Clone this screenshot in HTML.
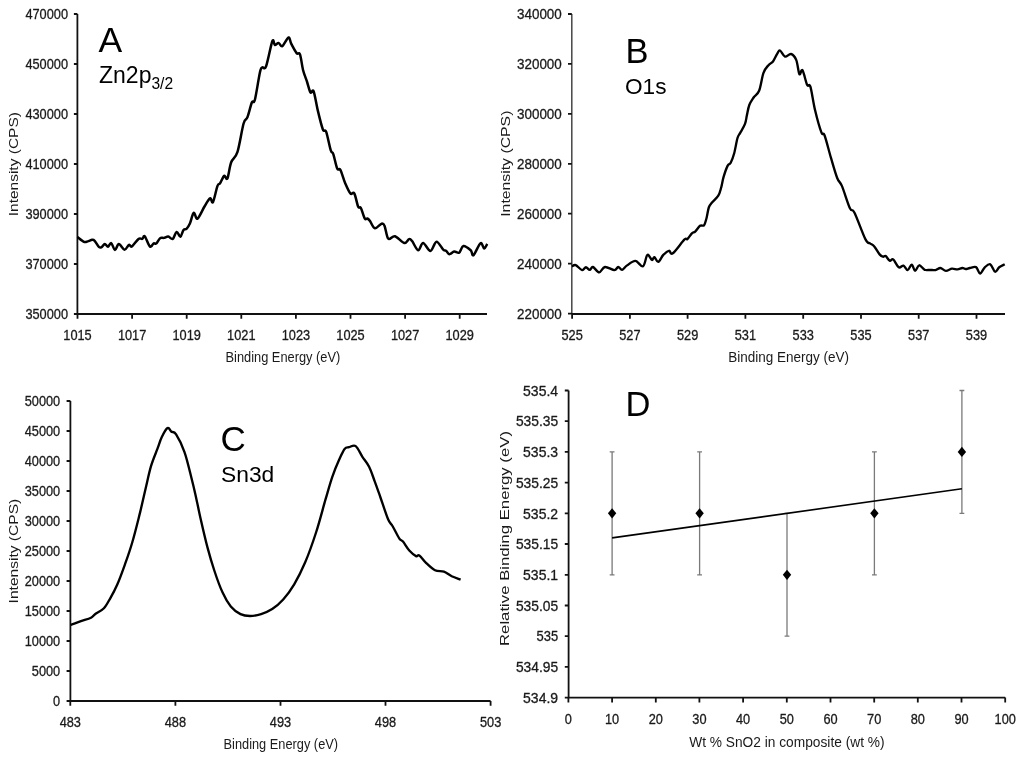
<!DOCTYPE html><html><head><meta charset="utf-8"><style>html,body{margin:0;padding:0;background:#fff;width:1024px;height:762px;overflow:hidden}svg{display:block;will-change:transform}text{stroke:#1a1a1a;stroke-width:0.3px}.ttl{stroke:none}</style></head><body>
<svg width="1024" height="762" viewBox="0 0 1024 762" style="font-family:'Liberation Sans', sans-serif">
<rect width="1024" height="762" fill="#fff"/>
<g stroke-linejoin="round">
<path d="M77.4,14 V314 H487 M73.9,14 H77.4 M73.9,64 H77.4 M73.9,114 H77.4 M73.9,164 H77.4 M73.9,214 H77.4 M73.9,264 H77.4 M73.9,314 H77.4 M77.5,314 V318.8 M132.1,314 V318.8 M186.7,314 V318.8 M241.3,314 V318.8 M295.9,314 V318.8 M350.5,314 V318.8 M405.1,314 V318.8 M459.7,314 V318.8" stroke="#111" stroke-width="1.8" fill="none"/>
<text x="68" y="19.2" font-size="14.4" text-anchor="end" fill="#1a1a1a" textLength="42.6" lengthAdjust="spacingAndGlyphs">470000</text><text x="68" y="69.2" font-size="14.4" text-anchor="end" fill="#1a1a1a" textLength="42.6" lengthAdjust="spacingAndGlyphs">450000</text><text x="68" y="119.2" font-size="14.4" text-anchor="end" fill="#1a1a1a" textLength="42.6" lengthAdjust="spacingAndGlyphs">430000</text><text x="68" y="169.2" font-size="14.4" text-anchor="end" fill="#1a1a1a" textLength="42.6" lengthAdjust="spacingAndGlyphs">410000</text><text x="68" y="219.2" font-size="14.4" text-anchor="end" fill="#1a1a1a" textLength="42.6" lengthAdjust="spacingAndGlyphs">390000</text><text x="68" y="269.2" font-size="14.4" text-anchor="end" fill="#1a1a1a" textLength="42.6" lengthAdjust="spacingAndGlyphs">370000</text><text x="68" y="319.2" font-size="14.4" text-anchor="end" fill="#1a1a1a" textLength="42.6" lengthAdjust="spacingAndGlyphs">350000</text>
<text x="77.5" y="340" font-size="14.4" text-anchor="middle" fill="#1a1a1a" textLength="28.4" lengthAdjust="spacingAndGlyphs">1015</text><text x="132.1" y="340" font-size="14.4" text-anchor="middle" fill="#1a1a1a" textLength="28.4" lengthAdjust="spacingAndGlyphs">1017</text><text x="186.7" y="340" font-size="14.4" text-anchor="middle" fill="#1a1a1a" textLength="28.4" lengthAdjust="spacingAndGlyphs">1019</text><text x="241.3" y="340" font-size="14.4" text-anchor="middle" fill="#1a1a1a" textLength="28.4" lengthAdjust="spacingAndGlyphs">1021</text><text x="295.9" y="340" font-size="14.4" text-anchor="middle" fill="#1a1a1a" textLength="28.4" lengthAdjust="spacingAndGlyphs">1023</text><text x="350.5" y="340" font-size="14.4" text-anchor="middle" fill="#1a1a1a" textLength="28.4" lengthAdjust="spacingAndGlyphs">1025</text><text x="405.1" y="340" font-size="14.4" text-anchor="middle" fill="#1a1a1a" textLength="28.4" lengthAdjust="spacingAndGlyphs">1027</text><text x="459.7" y="340" font-size="14.4" text-anchor="middle" fill="#1a1a1a" textLength="28.4" lengthAdjust="spacingAndGlyphs">1029</text>
<text x="282.9" y="362.3" font-size="14.4" text-anchor="middle" fill="#1a1a1a" textLength="114.8" lengthAdjust="spacingAndGlyphs" class="ttl">Binding Energy (eV)</text>
<text transform="translate(18.2,164.2) rotate(-90)" x="0" y="0" font-size="12.2" text-anchor="middle" fill="#1a1a1a" textLength="104.2" lengthAdjust="spacingAndGlyphs" class="ttl">Intensity (CPS)</text>
<text x="98.6" y="52.2" font-size="35.5" fill="#000" class="ttl">A</text>
<text x="99" y="83" font-size="23" fill="#000" class="ttl">Zn2p<tspan font-size="15.6" dy="5.6">3/2</tspan></text>
<path d="M77.5,237.0 C78.6,237.8 82.2,241.1 83.9,241.8 C85.6,242.5 86.3,241.7 87.7,241.4 C89.1,241.1 90.9,239.9 92.1,239.8 C93.3,239.7 93.5,239.6 94.7,240.8 C95.9,242.0 97.9,246.1 99.1,247.1 C100.3,248.1 100.8,247.6 101.7,247.1 C102.7,246.6 103.8,244.1 104.8,244.0 C105.8,243.9 106.9,246.8 108.0,246.7 C109.1,246.5 110.0,242.6 111.2,243.1 C112.4,243.6 113.7,249.8 115.0,249.9 C116.3,250.1 117.2,244.0 118.8,244.0 C120.4,244.0 122.8,249.6 124.5,249.7 C126.2,249.8 127.8,245.3 129.0,244.8 C130.2,244.3 130.3,247.5 131.9,246.5 C133.5,245.5 136.8,240.2 138.5,238.9 C140.2,237.6 141.2,239.3 142.3,238.9 C143.4,238.5 143.5,235.0 144.8,236.3 C146.1,237.6 148.4,245.3 149.9,246.5 C151.4,247.7 152.6,243.8 153.7,243.3 C154.8,242.8 155.1,244.4 156.2,243.6 C157.3,242.8 158.8,239.1 160.1,238.2 C161.4,237.2 162.5,238.2 163.9,237.9 C165.3,237.6 166.8,236.4 168.3,236.6 C169.8,236.8 171.4,239.7 172.8,238.9 C174.2,238.1 175.3,232.3 176.6,231.9 C177.9,231.5 179.2,237.0 180.4,236.7 C181.6,236.4 182.4,231.3 183.5,230.0 C184.6,228.7 185.6,229.8 186.7,228.7 C187.8,227.6 188.7,226.2 189.9,223.6 C191.1,221.0 192.4,213.7 193.7,212.9 C195.0,212.1 195.7,219.7 197.5,218.6 C199.3,217.5 202.4,209.9 204.5,206.5 C206.6,203.1 208.6,199.0 210.0,198.3 C211.4,197.6 211.8,204.2 213.0,202.1 C214.2,200.0 216.3,189.0 217.5,185.9 C218.7,182.8 218.9,185.1 220.0,183.4 C221.1,181.7 223.0,176.7 224.2,175.9 C225.4,175.1 226.2,180.7 227.4,178.4 C228.6,176.1 229.5,166.6 231.2,162.2 C232.9,157.8 235.3,158.6 237.4,152.2 C239.5,145.8 241.9,129.3 243.6,123.5 C245.3,117.7 246.0,120.8 247.4,117.3 C248.8,113.8 250.7,105.2 251.9,102.3 C253.2,99.4 253.6,104.8 254.9,99.8 C256.2,94.8 258.7,77.8 259.9,72.4 C261.1,67.0 261.3,68.4 262.3,67.4 C263.3,66.4 264.4,70.6 266.1,66.2 C267.8,61.8 270.9,44.7 272.3,41.2 C273.8,37.7 273.8,44.7 274.8,45.0 C275.9,45.3 277.4,42.8 278.6,43.0 C279.9,43.2 280.7,47.1 282.3,46.2 C283.9,45.3 287.0,37.9 288.5,37.5 C290.0,37.1 289.9,41.3 291.3,43.9 C292.7,46.5 295.2,51.4 296.6,53.1 C298.1,54.9 298.9,51.5 300.0,54.4 C301.1,57.2 301.9,65.6 303.1,70.2 C304.3,74.8 305.9,78.3 307.1,82.0 C308.3,85.7 309.4,91.0 310.5,92.5 C311.6,94.0 312.4,88.4 313.6,91.2 C314.8,94.0 316.1,103.3 317.6,109.6 C319.1,115.9 321.4,125.5 322.8,129.2 C324.2,132.9 324.9,128.4 326.2,131.9 C327.5,135.4 329.5,146.5 330.7,150.2 C331.9,153.9 332.2,151.1 333.3,154.2 C334.4,157.3 336.0,166.0 337.2,168.6 C338.4,171.2 339.1,167.5 340.4,169.9 C341.7,172.3 343.4,179.1 345.1,183.0 C346.8,186.9 348.9,191.8 350.4,193.5 C351.9,195.2 353.0,191.3 354.3,193.5 C355.6,195.7 357.1,204.3 358.2,206.7 C359.3,209.1 359.8,206.0 360.9,208.0 C362.0,210.0 363.7,216.8 364.8,218.5 C365.9,220.2 366.5,218.1 367.4,218.5 C368.3,218.9 368.8,219.4 370.0,221.0 C371.2,222.6 373.0,227.9 374.9,228.3 C376.8,228.8 380.0,224.1 381.6,223.7 C383.2,223.3 383.5,223.4 384.6,225.9 C385.7,228.4 386.6,237.0 388.3,238.7 C390.0,240.4 392.4,235.5 395.0,236.2 C397.6,236.9 401.8,242.5 404.2,243.0 C406.6,243.5 407.8,239.4 409.1,239.1 C410.4,238.8 410.6,239.2 412.1,241.1 C413.6,243.0 416.4,250.0 418.2,250.3 C420.0,250.6 421.1,242.9 423.1,243.0 C425.1,243.1 428.2,251.1 430.4,250.9 C432.6,250.7 434.4,241.9 436.5,241.7 C438.6,241.5 441.6,248.2 443.2,249.7 C444.8,251.2 445.3,250.2 446.3,250.9 C447.3,251.7 448.0,254.1 449.3,254.2 C450.6,254.3 452.6,251.8 454.2,251.5 C455.8,251.2 457.6,253.6 459.1,252.7 C460.6,251.8 461.5,246.4 463.4,246.0 C465.3,245.6 469.0,248.8 470.7,250.3 C472.4,251.8 471.9,256.4 473.5,255.2 C475.1,254.0 478.7,244.3 480.5,243.2 C482.3,242.1 483.0,248.4 484.1,248.5 C485.2,248.6 486.7,244.7 487.2,243.9" stroke="#000" stroke-width="2.5" fill="none" stroke-linejoin="round" stroke-linecap="butt"/>
<path d="M571.8,14 V314.0" stroke="#464646" stroke-width="1.5" fill="none"/>
<path d="M571.8,314.0 H1005 M568.0,14.0 H571.8 M568.0,63.9 H571.8 M568.0,113.9 H571.8 M568.0,163.8 H571.8 M568.0,213.7 H571.8 M568.0,263.6 H571.8 M568.0,313.6 H571.8 M572.1,314.0 V318.8 M629.9,314.0 V318.8 M687.6,314.0 V318.8 M745.4,314.0 V318.8 M803.2,314.0 V318.8 M861.0,314.0 V318.8 M918.7,314.0 V318.8 M976.5,314.0 V318.8" stroke="#111" stroke-width="1.8" fill="none"/>
<text x="561.8" y="19.2" font-size="14.4" text-anchor="end" fill="#1a1a1a" textLength="44.8" lengthAdjust="spacingAndGlyphs">340000</text><text x="561.8" y="69.1" font-size="14.4" text-anchor="end" fill="#1a1a1a" textLength="44.8" lengthAdjust="spacingAndGlyphs">320000</text><text x="561.8" y="119.1" font-size="14.4" text-anchor="end" fill="#1a1a1a" textLength="44.8" lengthAdjust="spacingAndGlyphs">300000</text><text x="561.8" y="169.0" font-size="14.4" text-anchor="end" fill="#1a1a1a" textLength="44.8" lengthAdjust="spacingAndGlyphs">280000</text><text x="561.8" y="218.9" font-size="14.4" text-anchor="end" fill="#1a1a1a" textLength="44.8" lengthAdjust="spacingAndGlyphs">260000</text><text x="561.8" y="268.8" font-size="14.4" text-anchor="end" fill="#1a1a1a" textLength="44.8" lengthAdjust="spacingAndGlyphs">240000</text><text x="561.8" y="318.8" font-size="14.4" text-anchor="end" fill="#1a1a1a" textLength="44.8" lengthAdjust="spacingAndGlyphs">220000</text>
<text x="572.1" y="340" font-size="14.4" text-anchor="middle" fill="#1a1a1a" textLength="21.3" lengthAdjust="spacingAndGlyphs">525</text><text x="629.9" y="340" font-size="14.4" text-anchor="middle" fill="#1a1a1a" textLength="21.3" lengthAdjust="spacingAndGlyphs">527</text><text x="687.6" y="340" font-size="14.4" text-anchor="middle" fill="#1a1a1a" textLength="21.3" lengthAdjust="spacingAndGlyphs">529</text><text x="745.4" y="340" font-size="14.4" text-anchor="middle" fill="#1a1a1a" textLength="21.3" lengthAdjust="spacingAndGlyphs">531</text><text x="803.2" y="340" font-size="14.4" text-anchor="middle" fill="#1a1a1a" textLength="21.3" lengthAdjust="spacingAndGlyphs">533</text><text x="861.0" y="340" font-size="14.4" text-anchor="middle" fill="#1a1a1a" textLength="21.3" lengthAdjust="spacingAndGlyphs">535</text><text x="918.7" y="340" font-size="14.4" text-anchor="middle" fill="#1a1a1a" textLength="21.3" lengthAdjust="spacingAndGlyphs">537</text><text x="976.5" y="340" font-size="14.4" text-anchor="middle" fill="#1a1a1a" textLength="21.3" lengthAdjust="spacingAndGlyphs">539</text>
<text x="788.6" y="362.3" font-size="14.4" text-anchor="middle" fill="#1a1a1a" textLength="120.9" lengthAdjust="spacingAndGlyphs" class="ttl">Binding Energy (eV)</text>
<text transform="translate(509.6,163.7) rotate(-90)" x="0" y="0" font-size="12.4" text-anchor="middle" fill="#1a1a1a" textLength="106.2" lengthAdjust="spacingAndGlyphs" class="ttl">Intensity (CPS)</text>
<text x="625.6" y="63.4" font-size="34.5" fill="#000" class="ttl">B</text>
<text x="625" y="94" font-size="22.6" fill="#000" class="ttl">O1s</text>
<path d="M571.9,266.3 C572.5,266.1 574.0,264.5 575.7,265.1 C577.4,265.7 580.4,269.8 582.1,270.1 C583.8,270.5 584.6,267.2 585.9,267.2 C587.2,267.2 588.5,269.9 589.7,269.9 C590.9,269.9 591.3,266.6 592.9,267.0 C594.5,267.4 597.2,272.3 599.2,272.3 C601.2,272.3 602.4,267.4 604.9,267.0 C607.4,266.6 612.2,270.1 614.4,270.1 C616.6,270.1 616.9,267.1 618.2,267.0 C619.5,266.9 620.6,270.1 622.1,269.8 C623.6,269.5 624.9,266.9 627.1,265.4 C629.3,263.9 632.8,260.8 635.4,260.9 C638.0,261.0 641.0,267.3 643.0,266.3 C645.0,265.3 645.9,256.0 647.4,254.9 C648.9,253.8 650.7,259.6 651.9,260.0 C653.1,260.4 653.3,256.8 654.4,257.1 C655.5,257.4 656.7,262.3 658.2,261.9 C659.7,261.5 661.5,256.8 663.3,254.9 C665.1,253.1 667.4,251.1 669.0,250.8 C670.6,250.5 670.2,255.2 672.8,253.3 C675.3,251.5 681.9,242.1 684.3,239.7 C686.7,237.3 686.1,240.1 687.4,239.0 C688.7,237.9 690.6,234.5 691.9,233.3 C693.2,232.1 693.9,232.8 695.2,231.6 C696.6,230.3 698.5,226.9 700.0,225.8 C701.5,224.7 703.0,226.5 704.1,225.2 C705.2,223.9 705.7,221.1 706.5,218.2 C707.3,215.2 707.9,210.1 708.8,207.5 C709.7,204.9 710.2,204.8 711.8,202.8 C713.4,200.8 716.7,198.2 718.3,195.7 C719.9,193.1 720.3,190.6 721.2,187.5 C722.1,184.4 722.5,180.6 723.6,176.9 C724.7,173.2 726.5,168.0 727.7,165.6 C728.9,163.2 729.6,164.8 730.7,162.7 C731.8,160.6 733.1,157.4 734.2,153.3 C735.3,149.2 736.5,141.4 737.5,138.0 C738.5,134.6 739.0,135.2 740.2,132.9 C741.5,130.6 743.9,126.9 745.0,123.9 C746.1,121.0 746.2,118.4 746.9,115.2 C747.6,112.0 748.2,108.0 749.3,105.0 C750.4,102.0 752.0,99.9 753.6,97.5 C755.2,95.1 757.5,94.9 759.1,90.8 C760.8,86.7 761.9,77.1 763.5,72.8 C765.1,68.5 767.1,66.8 768.7,64.9 C770.3,63.0 771.6,63.4 773.0,61.5 C774.4,59.6 776.1,55.4 777.3,53.6 C778.5,51.8 778.7,50.0 780.0,50.5 C781.3,51.0 783.2,56.0 785.0,56.6 C786.8,57.2 789.1,53.5 791.0,54.0 C792.9,54.5 794.8,56.5 796.2,59.9 C797.6,63.2 798.4,72.4 799.4,74.1 C800.4,75.8 801.2,68.5 802.5,70.3 C803.8,72.1 805.9,82.4 807.2,85.1 C808.5,87.8 809.1,82.5 810.4,86.7 C811.7,90.9 813.3,102.7 815.1,110.3 C816.9,117.9 819.8,128.2 821.4,132.4 C823.0,136.6 823.0,131.3 824.6,135.5 C826.2,139.7 828.8,150.5 830.9,157.6 C833.0,164.7 835.4,173.3 837.2,178.0 C839.0,182.7 839.8,180.9 841.9,185.9 C844.0,190.9 847.7,203.5 849.8,208.0 C851.9,212.5 851.9,207.5 854.5,212.7 C857.1,217.9 862.9,234.3 865.5,239.4 C868.1,244.5 868.6,242.3 870.0,243.4 C871.4,244.5 872.5,244.4 874.1,246.2 C875.7,248.0 878.1,252.7 879.6,254.4 C881.1,256.1 882.0,256.4 883.0,256.7 C884.0,257.0 884.6,255.4 885.7,256.1 C886.8,256.8 888.5,260.2 889.8,260.8 C891.0,261.4 891.7,258.3 893.2,259.4 C894.7,260.5 897.0,266.2 898.7,267.3 C900.4,268.4 902.0,265.2 903.5,265.7 C905.0,266.2 906.2,270.3 907.6,270.1 C909.0,269.9 910.5,264.5 911.7,264.6 C913.0,264.7 913.9,270.7 915.1,270.8 C916.4,270.9 917.6,265.5 919.2,265.3 C920.8,265.1 922.9,269.1 924.7,269.8 C926.5,270.6 928.4,269.8 930.2,269.8 C932.0,269.9 933.9,270.4 935.6,270.1 C937.3,269.8 938.7,267.9 940.4,268.0 C942.1,268.1 944.0,270.7 945.9,270.8 C947.8,270.9 950.1,268.9 952.0,268.7 C953.9,268.5 955.8,269.5 957.5,269.4 C959.2,269.3 960.9,268.1 962.3,268.0 C963.7,267.9 964.5,269.0 965.7,269.0 C967.0,269.0 968.1,268.3 969.8,268.0 C971.5,267.7 974.3,266.2 976.0,267.1 C977.7,268.0 978.6,273.5 980.1,273.5 C981.6,273.5 983.1,268.8 984.8,267.3 C986.5,265.8 988.6,263.6 990.3,264.3 C992.0,265.0 993.6,271.2 995.1,271.7 C996.6,272.2 997.6,268.5 999.2,267.3 C1000.8,266.1 1003.8,264.8 1004.7,264.3" stroke="#000" stroke-width="2.35" fill="none" stroke-linejoin="round" stroke-linecap="butt"/>
<path d="M70.4,401 V701 H490.6 M66.60000000000001,401 H70.4 M66.60000000000001,431 H70.4 M66.60000000000001,461 H70.4 M66.60000000000001,491 H70.4 M66.60000000000001,521 H70.4 M66.60000000000001,551 H70.4 M66.60000000000001,581 H70.4 M66.60000000000001,611 H70.4 M66.60000000000001,641 H70.4 M66.60000000000001,671 H70.4 M66.60000000000001,701 H70.4 M70.3,701 V705.8 M175.4,701 V705.8 M280.5,701 V705.8 M385.5,701 V705.8 M490.6,701 V705.8" stroke="#111" stroke-width="1.8" fill="none"/>
<text x="60.2" y="406.2" font-size="14.4" text-anchor="end" fill="#1a1a1a" textLength="35.5" lengthAdjust="spacingAndGlyphs">50000</text><text x="60.2" y="436.2" font-size="14.4" text-anchor="end" fill="#1a1a1a" textLength="35.5" lengthAdjust="spacingAndGlyphs">45000</text><text x="60.2" y="466.2" font-size="14.4" text-anchor="end" fill="#1a1a1a" textLength="35.5" lengthAdjust="spacingAndGlyphs">40000</text><text x="60.2" y="496.2" font-size="14.4" text-anchor="end" fill="#1a1a1a" textLength="35.5" lengthAdjust="spacingAndGlyphs">35000</text><text x="60.2" y="526.2" font-size="14.4" text-anchor="end" fill="#1a1a1a" textLength="35.5" lengthAdjust="spacingAndGlyphs">30000</text><text x="60.2" y="556.2" font-size="14.4" text-anchor="end" fill="#1a1a1a" textLength="35.5" lengthAdjust="spacingAndGlyphs">25000</text><text x="60.2" y="586.2" font-size="14.4" text-anchor="end" fill="#1a1a1a" textLength="35.5" lengthAdjust="spacingAndGlyphs">20000</text><text x="60.2" y="616.2" font-size="14.4" text-anchor="end" fill="#1a1a1a" textLength="35.5" lengthAdjust="spacingAndGlyphs">15000</text><text x="60.2" y="646.2" font-size="14.4" text-anchor="end" fill="#1a1a1a" textLength="35.5" lengthAdjust="spacingAndGlyphs">10000</text><text x="60.2" y="676.2" font-size="14.4" text-anchor="end" fill="#1a1a1a" textLength="28.4" lengthAdjust="spacingAndGlyphs">5000</text><text x="60.2" y="706.2" font-size="14.4" text-anchor="end" fill="#1a1a1a" textLength="7.1" lengthAdjust="spacingAndGlyphs">0</text>
<text x="70.3" y="727" font-size="14.4" text-anchor="middle" fill="#1a1a1a" textLength="21.3" lengthAdjust="spacingAndGlyphs">483</text><text x="175.4" y="727" font-size="14.4" text-anchor="middle" fill="#1a1a1a" textLength="21.3" lengthAdjust="spacingAndGlyphs">488</text><text x="280.5" y="727" font-size="14.4" text-anchor="middle" fill="#1a1a1a" textLength="21.3" lengthAdjust="spacingAndGlyphs">493</text><text x="385.5" y="727" font-size="14.4" text-anchor="middle" fill="#1a1a1a" textLength="21.3" lengthAdjust="spacingAndGlyphs">498</text><text x="490.6" y="727" font-size="14.4" text-anchor="middle" fill="#1a1a1a" textLength="21.3" lengthAdjust="spacingAndGlyphs">503</text>
<text x="280.8" y="749.0" font-size="14.4" text-anchor="middle" fill="#1a1a1a" textLength="114.5" lengthAdjust="spacingAndGlyphs" class="ttl">Binding Energy (eV)</text>
<text transform="translate(18.3,551.1) rotate(-90)" x="0" y="0" font-size="12.2" text-anchor="middle" fill="#1a1a1a" textLength="104.6" lengthAdjust="spacingAndGlyphs" class="ttl">Intensity (CPS)</text>
<text x="220.4" y="451" font-size="35" fill="#000" class="ttl">C</text>
<text x="221" y="481.5" font-size="22.8" fill="#000" class="ttl">Sn3d</text>
<path d="M70.8,625.0 C72.5,624.4 77.5,622.4 80.9,621.2 C84.3,620.0 88.6,618.9 91.0,617.7 C93.4,616.5 93.1,615.6 95.3,614.0 C97.5,612.4 101.4,611.0 103.9,608.3 C106.4,605.6 108.2,601.8 110.5,597.8 C112.8,593.8 115.0,589.7 117.4,584.2 C119.8,578.7 122.3,571.8 124.8,564.8 C127.3,557.8 129.8,550.9 132.3,542.2 C134.9,533.5 137.8,521.5 140.1,512.4 C142.3,503.3 144.0,495.5 145.8,487.8 C147.6,480.1 149.1,472.7 151.0,466.2 C152.9,459.7 155.6,453.7 157.4,448.9 C159.2,444.1 160.0,440.8 161.7,437.3 C163.4,433.8 165.9,429.1 167.5,428.1 C169.1,427.1 169.8,430.4 171.2,431.5 C172.6,432.6 173.9,431.0 176.1,434.4 C178.3,437.8 181.8,444.6 184.4,451.8 C187.0,459.0 189.6,470.6 191.4,477.7 C193.2,484.8 193.9,487.6 195.4,494.4 C196.9,501.1 198.5,509.4 200.5,518.2 C202.5,527.0 205.1,538.4 207.4,547.1 C209.7,555.8 211.8,562.9 214.3,570.5 C216.8,578.1 219.8,586.6 222.6,592.6 C225.3,598.6 227.8,602.8 230.8,606.4 C233.8,610.0 237.3,612.5 240.5,614.1 C243.7,615.7 246.7,616.0 250.1,616.0 C253.5,616.0 257.4,615.2 261.1,614.1 C264.8,613.0 268.5,611.5 272.2,609.1 C275.9,606.7 279.5,603.6 283.2,599.5 C286.9,595.4 290.5,590.5 294.2,584.3 C297.9,578.1 301.5,571.0 305.2,562.3 C308.9,553.6 312.8,542.5 316.2,532.0 C319.6,521.5 322.9,508.4 325.6,499.2 C328.3,490.0 330.1,483.4 332.3,476.9 C334.5,470.4 336.9,464.8 339.0,460.1 C341.1,455.5 342.9,451.1 344.6,449.0 C346.3,446.9 347.1,447.7 349.0,447.2 C350.9,446.7 353.5,444.5 355.7,446.1 C357.9,447.7 360.2,453.4 362.4,456.8 C364.6,460.2 367.1,462.7 369.1,466.8 C371.2,470.9 372.8,476.3 374.7,481.3 C376.6,486.3 378.1,490.7 380.3,497.0 C382.5,503.3 386.1,514.5 388.1,519.3 C390.1,524.1 390.6,522.8 392.5,526.0 C394.4,529.2 397.4,535.7 399.2,538.3 C400.9,540.9 401.3,539.6 403.0,541.6 C404.7,543.6 407.1,548.1 409.3,550.5 C411.5,552.9 414.3,555.3 416.0,556.1 C417.7,556.9 417.6,554.3 419.3,555.4 C421.0,556.5 423.4,560.3 426.0,562.8 C428.6,565.3 432.0,568.7 435.0,570.2 C438.0,571.7 441.1,570.7 443.9,571.7 C446.7,572.7 448.9,574.9 451.7,576.2 C454.5,577.5 459.1,579.0 460.6,579.6" stroke="#000" stroke-width="2.35" fill="none" stroke-linejoin="round" stroke-linecap="butt"/>
<path d="M568.6,390.5 V697.6 H1005.2 M564.8000000000001,390.5 H568.6 M564.8000000000001,421.2 H568.6 M564.8000000000001,451.9 H568.6 M564.8000000000001,482.6 H568.6 M564.8000000000001,513.3 H568.6 M564.8000000000001,544.0 H568.6 M564.8000000000001,574.8 H568.6 M564.8000000000001,605.5 H568.6 M564.8000000000001,636.2 H568.6 M564.8000000000001,666.9 H568.6 M564.8000000000001,697.6 H568.6 M568.4,697.6 V702.4 M612.1,697.6 V702.4 M655.8,697.6 V702.4 M699.4,697.6 V702.4 M743.1,697.6 V702.4 M786.8,697.6 V702.4 M830.5,697.6 V702.4 M874.2,697.6 V702.4 M917.8,697.6 V702.4 M961.5,697.6 V702.4 M1005.2,697.6 V702.4" stroke="#111" stroke-width="1.8" fill="none"/>
<text x="558.1" y="395.7" font-size="14.4" text-anchor="end" fill="#1a1a1a" textLength="35.0" lengthAdjust="spacingAndGlyphs">535.4</text><text x="558.1" y="426.4" font-size="14.4" text-anchor="end" fill="#1a1a1a" textLength="42.2" lengthAdjust="spacingAndGlyphs">535.35</text><text x="558.1" y="457.1" font-size="14.4" text-anchor="end" fill="#1a1a1a" textLength="35.0" lengthAdjust="spacingAndGlyphs">535.3</text><text x="558.1" y="487.8" font-size="14.4" text-anchor="end" fill="#1a1a1a" textLength="42.2" lengthAdjust="spacingAndGlyphs">535.25</text><text x="558.1" y="518.5" font-size="14.4" text-anchor="end" fill="#1a1a1a" textLength="35.0" lengthAdjust="spacingAndGlyphs">535.2</text><text x="558.1" y="549.2" font-size="14.4" text-anchor="end" fill="#1a1a1a" textLength="42.2" lengthAdjust="spacingAndGlyphs">535.15</text><text x="558.1" y="580.0" font-size="14.4" text-anchor="end" fill="#1a1a1a" textLength="35.0" lengthAdjust="spacingAndGlyphs">535.1</text><text x="558.1" y="610.7" font-size="14.4" text-anchor="end" fill="#1a1a1a" textLength="42.2" lengthAdjust="spacingAndGlyphs">535.05</text><text x="558.1" y="641.4" font-size="14.4" text-anchor="end" fill="#1a1a1a" textLength="21.6" lengthAdjust="spacingAndGlyphs">535</text><text x="558.1" y="672.1" font-size="14.4" text-anchor="end" fill="#1a1a1a" textLength="42.2" lengthAdjust="spacingAndGlyphs">534.95</text><text x="558.1" y="702.8" font-size="14.4" text-anchor="end" fill="#1a1a1a" textLength="35.0" lengthAdjust="spacingAndGlyphs">534.9</text>
<text x="568.4" y="724" font-size="14.4" text-anchor="middle" fill="#1a1a1a" textLength="7.1" lengthAdjust="spacingAndGlyphs">0</text><text x="612.1" y="724" font-size="14.4" text-anchor="middle" fill="#1a1a1a" textLength="14.2" lengthAdjust="spacingAndGlyphs">10</text><text x="655.8" y="724" font-size="14.4" text-anchor="middle" fill="#1a1a1a" textLength="14.2" lengthAdjust="spacingAndGlyphs">20</text><text x="699.4" y="724" font-size="14.4" text-anchor="middle" fill="#1a1a1a" textLength="14.2" lengthAdjust="spacingAndGlyphs">30</text><text x="743.1" y="724" font-size="14.4" text-anchor="middle" fill="#1a1a1a" textLength="14.2" lengthAdjust="spacingAndGlyphs">40</text><text x="786.8" y="724" font-size="14.4" text-anchor="middle" fill="#1a1a1a" textLength="14.2" lengthAdjust="spacingAndGlyphs">50</text><text x="830.5" y="724" font-size="14.4" text-anchor="middle" fill="#1a1a1a" textLength="14.2" lengthAdjust="spacingAndGlyphs">60</text><text x="874.2" y="724" font-size="14.4" text-anchor="middle" fill="#1a1a1a" textLength="14.2" lengthAdjust="spacingAndGlyphs">70</text><text x="917.8" y="724" font-size="14.4" text-anchor="middle" fill="#1a1a1a" textLength="14.2" lengthAdjust="spacingAndGlyphs">80</text><text x="961.5" y="724" font-size="14.4" text-anchor="middle" fill="#1a1a1a" textLength="14.2" lengthAdjust="spacingAndGlyphs">90</text><text x="1005.2" y="724" font-size="14.4" text-anchor="middle" fill="#1a1a1a" textLength="21.3" lengthAdjust="spacingAndGlyphs">100</text>
<text x="786.9" y="746.6" font-size="14.4" text-anchor="middle" fill="#1a1a1a" textLength="195.4" lengthAdjust="spacingAndGlyphs" class="ttl">Wt % SnO2 in composite (wt %)</text>
<text transform="translate(509.2,538.5) rotate(-90)" x="0" y="0" font-size="12.4" text-anchor="middle" fill="#1a1a1a" textLength="215" lengthAdjust="spacingAndGlyphs" class="ttl">Relative Binding Energy (eV)</text>
<text x="625.6" y="416.2" font-size="34.5" fill="#000" class="ttl">D</text>
<path d="M612.1,451.9 V574.8 M609.7,451.9 H614.5 M609.7,574.8 H614.5" stroke="#7a7a7a" stroke-width="1.3" fill="none"/><path d="M699.6,451.9 V574.8 M697.2,451.9 H702.0 M697.2,574.8 H702.0" stroke="#7a7a7a" stroke-width="1.3" fill="none"/><path d="M787.0,513.3 V636.2 M784.6,513.3 H789.4 M784.6,636.2 H789.4" stroke="#7a7a7a" stroke-width="1.3" fill="none"/><path d="M874.4,451.9 V574.8 M872.0,451.9 H876.8 M872.0,574.8 H876.8" stroke="#7a7a7a" stroke-width="1.3" fill="none"/><path d="M961.9,390.5 V513.3 M959.5,390.5 H964.3 M959.5,513.3 H964.3" stroke="#7a7a7a" stroke-width="1.3" fill="none"/>
<path d="M612.1,537.9 L961.9,488.8" stroke="#000" stroke-width="1.6" fill="none"/>
<path d="M612.1,508.2 L616.3,513.3 L612.1,518.4 L607.9,513.3 Z" fill="#000"/><path d="M699.6,508.2 L703.8,513.3 L699.6,518.4 L695.4,513.3 Z" fill="#000"/><path d="M787.0,569.7 L791.2,574.8 L787.0,579.9 L782.8,574.8 Z" fill="#000"/><path d="M874.4,508.2 L878.6,513.3 L874.4,518.4 L870.2,513.3 Z" fill="#000"/><path d="M961.9,446.8 L966.1,451.9 L961.9,457.0 L957.7,451.9 Z" fill="#000"/>
</g></svg></body></html>
